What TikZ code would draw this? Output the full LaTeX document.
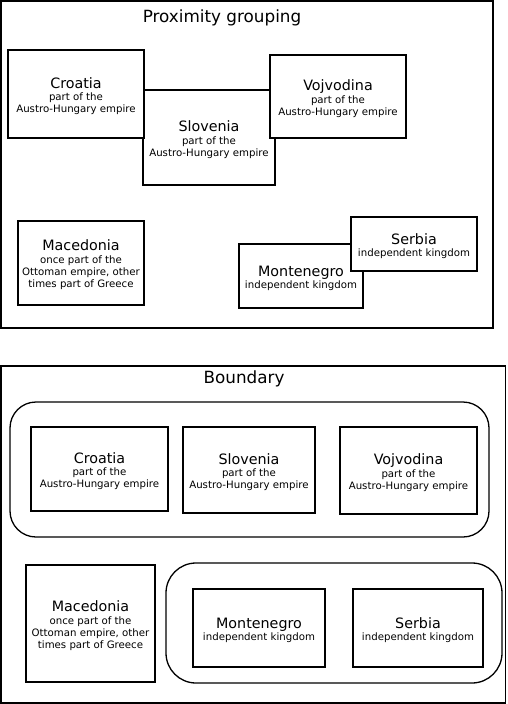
\documentclass[tikz,border=0pt]{standalone}
\usepackage{fontspec}
\setmainfont{DejaVu Sans}
\newcommand\bigname[1]{{\fontsize{14.3}{15}\selectfont\rule{0pt}{15pt}#1}}
\tikzset{
  frame/.style={draw=black, line width=1.3pt},
  group/.style={draw=black, line width=1.3pt},
  country/.style={draw=black, fill=white, line width=1.3pt, inner sep=0pt, align=center,
    font=\fontsize{10.2}{12.2}\selectfont},
  heading/.style={inner sep=0pt, font=\fontsize{16.8}{18}\selectfont}
}
\begin{document}
\begin{tikzpicture}[x=1pt,y=-1pt]
\useasboundingbox (0,0) rectangle (507,704);
% ---------- Proximity grouping ----------
\draw[frame] (1,1) rectangle (493,328);
\node[heading] (t1) at (222,18) {Proximity grouping};
\node[country, minimum width=132pt, minimum height=95pt] (sloA) at (209,137.5)
  {\bigname{Slovenia}\\[0.4pt] part of the\\ Austro-Hungary empire};
\node[country, minimum width=136pt, minimum height=88pt] (croA) at (76,94)
  {\bigname{Croatia}\\[0.4pt] part of the\\ Austro-Hungary empire};
\node[country, minimum width=136pt, minimum height=83pt] (vojA) at (338,96.5)
  {\bigname{Vojvodina}\\[0.4pt] part of the\\ Austro-Hungary empire};
\node[country, minimum width=126pt, minimum height=84pt] (macA) at (81,263)
  {\bigname{Macedonia}\\[0.4pt] once part of the\\ Ottoman empire, other\\ times part of Greece};
\node[country, minimum width=124pt, minimum height=64pt] (monA) at (301,276)
  {\bigname{Montenegro}\\[0.4pt] independent kingdom};
\node[country, minimum width=126pt, minimum height=54pt] (serA) at (414,244)
  {\bigname{Serbia}\\[0.4pt] independent kingdom};
% ---------- Boundary ----------
\draw[frame] (1,366) rectangle (505.8,703);
\node[heading] (t2) at (244,379) {Boundary};
\draw[group, rounded corners=26pt] (10,402) rectangle (489,537);
\draw[group, rounded corners=30pt] (166,563) rectangle (502,683);
\node[country, minimum width=137pt, minimum height=84pt] (croB) at (99.5,469)
  {\bigname{Croatia}\\[0.4pt] part of the\\ Austro-Hungary empire};
\node[country, minimum width=132pt, minimum height=86pt] (sloB) at (249,470)
  {\bigname{Slovenia}\\[0.4pt] part of the\\ Austro-Hungary empire};
\node[country, minimum width=137pt, minimum height=87pt] (vojB) at (408.5,470.5)
  {\bigname{Vojvodina}\\[0.4pt] part of the\\ Austro-Hungary empire};
\node[country, minimum width=129pt, minimum height=117pt] (macB) at (90.5,623.5)
  {\bigname{Macedonia}\\[0.4pt] once part of the\\ Ottoman empire, other\\ times part of Greece};
\node[country, minimum width=132pt, minimum height=78pt] (monB) at (259,628)
  {\bigname{Montenegro}\\[0.4pt] independent kingdom};
\node[country, minimum width=130pt, minimum height=78pt] (serB) at (418,628)
  {\bigname{Serbia}\\[0.4pt] independent kingdom};
\end{tikzpicture}
\end{document}
